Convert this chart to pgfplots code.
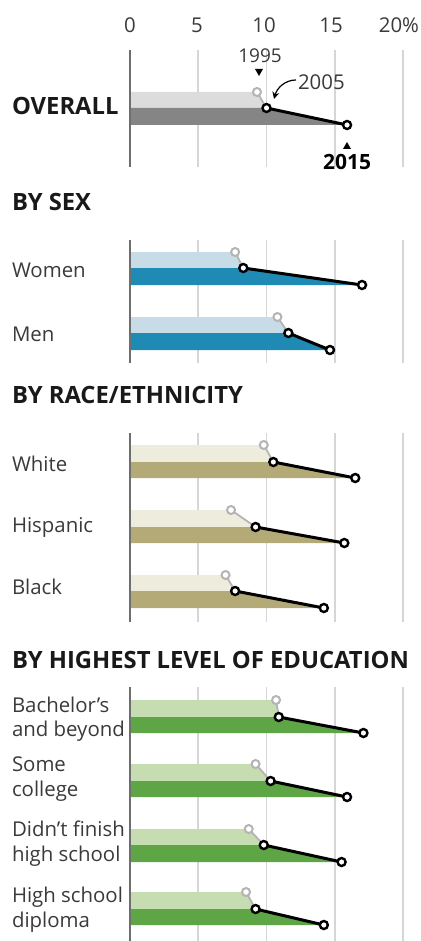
\documentclass[border=0pt]{standalone}
\usepackage{pgfplots}
\pgfplotsset{compat=1.18}
\usetikzlibrary{arrows.meta}
\usepackage{fontspec}
\setmainfont{Open Sans}
\definecolor{gridc}{HTML}{D6D6D6}
\definecolor{axc}{HTML}{6E6E6E}
\definecolor{c95}{HTML}{B4B4B4}
\definecolor{labc}{HTML}{3A3A3A}
\definecolor{ovL}{HTML}{DCDCDC}
\definecolor{ovD}{HTML}{858585}
\definecolor{sxL}{HTML}{C8DCE8}
\definecolor{sxD}{HTML}{1F8AB4}
\definecolor{rcL}{HTML}{EEECDC}
\definecolor{rcD}{HTML}{B3AA78}
\definecolor{edL}{HTML}{C5DDB0}
\definecolor{edD}{HTML}{5EA545}
% one row: top mid bottom (y, px) | 1995 2005 2015 (%) | light dark
\newcommand{\grp}[8]{%
 \addplot[fill=#7, draw=none] coordinates {(0,#1) (#4,#1) (#5,#2) (0,#2)} -- cycle;
 \addplot[fill=#8, draw=none] coordinates {(0,#2) (#5,#2) (#6,#3) (0,#3)} -- cycle;
 \addplot[color=c95, line width=0.9pt] coordinates {(#4,#1) (#5,#2)};
 \addplot[black, line width=1.5pt] coordinates {(#5,#2) (#6,#3)};
 \addplot[only marks, mark=*, mark size=2pt, mark options={fill=white, draw=c95, line width=1pt}] coordinates {(#4,#1)};
 \addplot[only marks, mark=*, mark size=2pt, mark options={fill=white, draw=black, line width=1.2pt}] coordinates {(#5,#2) (#6,#3)};
}
\newcommand{\panel}[2]{%
 \addplot[gridc, line width=0.8pt] coordinates {(5,#1) (5,#2)};
 \addplot[gridc, line width=0.8pt] coordinates {(10,#1) (10,#2)};
 \addplot[gridc, line width=0.8pt] coordinates {(15,#1) (15,#2)};
 \addplot[gridc, line width=0.8pt] coordinates {(20,#1) (20,#2)};
}
\newcommand{\zeroline}[2]{%
 \addplot[axc, line width=1pt] coordinates {(0,#1) (0,#2)};
}
\newcommand{\lab}{\fontsize{10.2pt}{12pt}\selectfont\color{labc}}
\newcommand{\hed}{\fontsize{11.9pt}{13pt}\selectfont\bfseries\color{black!90}}
\begin{document}
\begin{tikzpicture}
\useasboundingbox (0,0) rectangle (210pt,470.5pt);
\begin{axis}[
  at={(0pt,0pt)}, anchor=south west,
  width=210pt, height=470.5pt, scale only axis,
  xmin=-9.5238, xmax=21.245, ymin=0, ymax=941, y dir=reverse,
  axis lines=none, clip=false,
]
\panel{50}{167}
\panel{240}{363}
\panel{433}{622}
\panel{687}{941}
% OVERALL
\grp{92}{108}{125}{9.3}{10.0}{15.9}{ovL}{ovD}
% BY SEX
\grp{252}{268}{285}{7.7}{8.3}{17.0}{sxL}{sxD}
\grp{317}{333}{350}{10.8}{11.6}{14.65}{sxL}{sxD}
% BY RACE
\grp{445}{462}{478}{9.8}{10.5}{16.5}{rcL}{rcD}
\grp{510}{527}{543}{7.4}{9.2}{15.7}{rcL}{rcD}
\grp{575}{591}{608}{7.0}{7.7}{14.2}{rcL}{rcD}
% BY EDUCATION
\grp{700}{717}{733}{10.7}{10.9}{17.1}{edL}{edD}
\grp{764}{781}{797}{9.2}{10.3}{15.9}{edL}{edD}
\grp{829}{845}{862}{8.7}{9.8}{15.5}{edL}{edD}
\grp{892}{909}{925}{8.5}{9.2}{14.2}{edL}{edD}
\zeroline{50}{167}
\zeroline{240}{363}
\zeroline{433}{622}
\zeroline{687}{941}
\end{axis}
\begin{scope}[x=0.5pt, y=-0.5pt, shift={(0pt,470.5pt)}]
\tikzset{every node/.style={inner sep=0pt, outer sep=0pt}}
% tick labels
\node[anchor=base] at (130,33) {\lab 0};
\node[anchor=base] at (197,33) {\lab 5};
\node[anchor=base] at (264,33) {\lab 10};
\node[anchor=base] at (331,33) {\lab 15};
\node[anchor=base east] at (419,33) {\lab 20\%};
% headings and labels
\node[anchor=base west] at (12,115) {\hed OVERALL};
\node[anchor=base west] at (12,211) {\hed BY SEX};
\node[anchor=base west] at (12,278) {\lab Women};
\node[anchor=base west] at (12,342) {\lab Men};
\node[anchor=base west] at (12,404) {\hed BY RACE/ETHNICITY};
\node[anchor=base west] at (12,472) {\lab White};
\node[anchor=base west] at (12,533) {\lab Hispanic};
\node[anchor=base west] at (12,595) {\lab Black};
\node[anchor=base west] at (12,669) {\hed BY HIGHEST LEVEL OF EDUCATION};
\node[anchor=base west] at (12,713) {\lab Bachelor’s};
\node[anchor=base west] at (12,737) {\lab and beyond};
\node[anchor=base west] at (12,772) {\lab Some};
\node[anchor=base west] at (12,797) {\lab college};
\node[anchor=base west] at (12,837) {\lab Didn’t finish};
\node[anchor=base west] at (12,862) {\lab high school};
\node[anchor=base west] at (12,903) {\lab High school};
\node[anchor=base west] at (12,928) {\lab diploma};
% annotations
\node[anchor=base] at (260,63) {\fontsize{9.5pt}{11pt}\selectfont\color{labc}1995};
\fill[black] (255,69) -- (263,69) -- (259,76) -- cycle;
\node[anchor=base west] at (298,90) {\lab 2005};
\draw[black, line width=0.6pt, -{Stealth[length=3.5pt,width=3.5pt]}] (296,80) .. controls (285,80) and (277,88) .. (274,99);
\fill[black] (343,149) -- (351,149) -- (347,142) -- cycle;
\node[anchor=base] at (347,170) {\fontsize{10.5pt}{12pt}\selectfont\bfseries\color{black}2015};
\end{scope}
\end{tikzpicture}
\end{document}
